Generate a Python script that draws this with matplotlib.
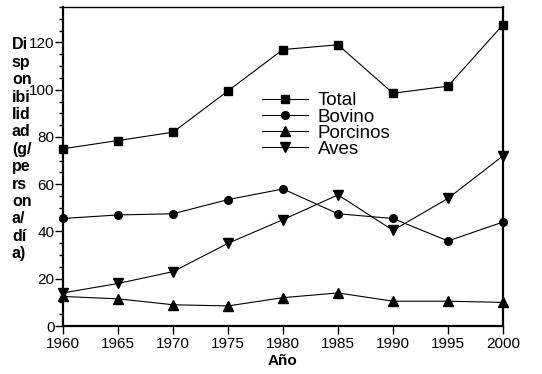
import matplotlib
matplotlib.use("Agg")
import matplotlib.pyplot as plt
from matplotlib.ticker import MultipleLocator

# data
years = [1960, 1965, 1970, 1975, 1980, 1985, 1990, 1995, 2000]
total = [75, 78.5, 82, 99.5, 117, 119, 98.5, 101.5, 127.5]
bovino = [45.5, 47, 47.5, 53.5, 58, 47.5, 45.5, 36, 44]
porcinos = [12.5, 11.5, 9, 8.5, 12, 14, 10.5, 10.5, 10]
aves = [14, 18, 23, 35, 45, 55.5, 40.5, 54, 72]
series_names = ["Total", "Bovino", "Porcinos", "Aves"]
ylabel_lines = ["Di", "sp", "on", "ibi", "lid", "ad", "(g/", "pe", "rs", "on", "a/", "dí", "a)"]

fig = plt.figure(figsize=(5.42, 3.74), dpi=100)
ax = fig.add_axes([0.1162, 0.1283, 0.8118, 0.853])

styles = [("s", 5.5), ("o", 5.5), ("^", 6.5), ("v", 6.5)]
for vals, name, (m, ms) in zip([total, bovino, porcinos, aves], series_names, styles):
    ax.plot(years, vals, color="black", lw=0.8, marker=m, ms=ms,
            markerfacecolor="black", markeredgecolor="black", label=name,
            clip_on=False, zorder=3)

ax.set_xlim(1960, 2000)
ax.set_ylim(0, 135)
ax.set_xticks(years)
ax.yaxis.set_major_locator(MultipleLocator(20))
ax.yaxis.set_minor_locator(MultipleLocator(5))

for s in ["left", "right", "bottom"]:
    ax.spines[s].set_linewidth(1.6)
ax.spines["top"].set_linewidth(1.0)

ax.tick_params(axis="x", direction="out", length=6, width=1, pad=2,
               labelsize=11)
ax.tick_params(axis="y", which="major", direction="out", length=6, width=1,
               pad=0, labelsize=11)
ax.tick_params(axis="y", which="minor", direction="out", length=3, width=1)
for lab in ax.get_xticklabels() + ax.get_yticklabels():
    lab.set_family("Liberation Sans")

ax.set_xlabel("Año", fontsize=11, fontweight="bold", family="Liberation Sans",
              labelpad=2)

fig.text(0.022, 0.9, "\n".join(ylabel_lines), fontsize=11.5,
         fontweight="bold", family="Liberation Sans", va="top", ha="left",
         linespacing=1.2)

leg = ax.legend(loc="upper left", bbox_to_anchor=(0.43, 0.762), frameon=False,
                prop={"family": "Liberation Sans", "size": 13.5},
                handlelength=2.5, handletextpad=0.5, labelspacing=-0.05,
                borderpad=0)

fig.savefig("out.png", dpi=100)
